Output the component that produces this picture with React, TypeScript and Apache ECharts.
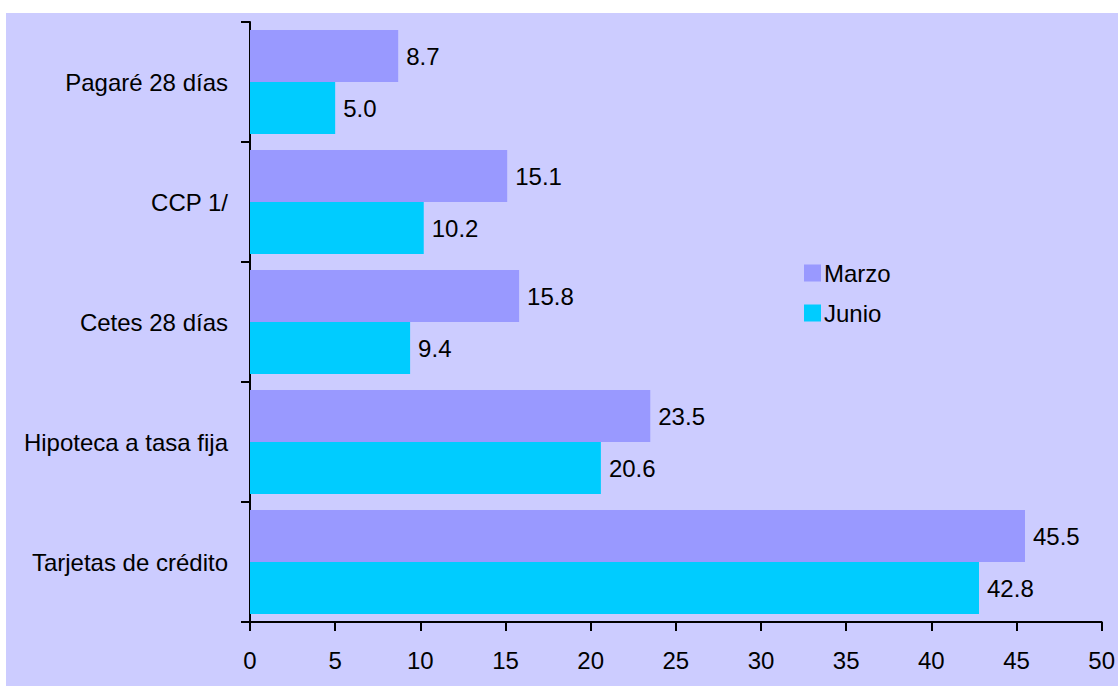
import React, { useEffect, useRef } from "react";
import * as echarts from "echarts";

// Categories listed top to bottom
const categories = [
  "Pagaré 28 días",
  "CCP 1/",
  "Cetes 28 días",
  "Hipoteca a tasa fija",
  "Tarjetas de crédito",
];
const marzo = [8.7, 15.1, 15.8, 23.5, 45.5];
const junio = [5.0, 10.2, 9.4, 20.6, 42.8];
const seriesNames = ["Marzo", "Junio"];
const xTicks = { min: 0, max: 50, interval: 5 };

const FONT = "'Liberation Sans', Arial, sans-serif";
const FS = 24;

export default function App() {
  const ref = useRef<HTMLDivElement>(null);

  useEffect(() => {
    if (!ref.current) return;
    const chart = echarts.init(ref.current, undefined, { renderer: "svg" });
    const label = {
      show: true,
      position: "right" as const,
      distance: 8,
      color: "#000",
      fontFamily: FONT,
      fontSize: FS,
      formatter: (p: any) => Number(p.value).toFixed(1),
    };
    chart.setOption({
      animation: false,
      backgroundColor: "#ffffff",
      textStyle: { fontFamily: FONT },
      graphic: [
        {
          type: "rect",
          z: -10,
          shape: { x: 6, y: 13, width: 1112, height: 673 },
          style: { fill: "#CCCCFF" },
          silent: true,
        },
      ],
      grid: { left: 250, right: 13, top: 22, bottom: 64, containLabel: false },
      legend: {
        orient: "vertical",
        left: 799,
        top: 256,
        data: seriesNames,
        itemWidth: 17,
        itemHeight: 17,
        itemGap: 16,
        icon: "rect",
        textStyle: { fontFamily: FONT, fontSize: FS, color: "#000", padding: [0, 0, 0, -2] },
      },
      xAxis: {
        type: "value",
        min: xTicks.min,
        max: xTicks.max,
        interval: xTicks.interval,
        splitLine: { show: false },
        axisLine: { show: true, lineStyle: { color: "#000", width: 2 } },
        axisTick: { show: true, length: 9, lineStyle: { color: "#000", width: 2 } },
        axisLabel: { color: "#000", fontFamily: FONT, fontSize: FS, margin: 26 },
      },
      yAxis: {
        type: "category",
        data: categories,
        inverse: true,
        axisLine: { show: true, lineStyle: { color: "#000", width: 2 } },
        axisTick: { show: true, length: 9, lineStyle: { color: "#000", width: 2 } },
        axisLabel: { color: "#000", fontFamily: FONT, fontSize: FS, margin: 22 },
      },
      series: [
        {
          name: seriesNames[0],
          type: "bar",
          data: marzo,
          barWidth: 52,
          barGap: "0%",
          itemStyle: { color: "#9999FF" },
          label,
        },
        {
          name: seriesNames[1],
          type: "bar",
          data: junio,
          barWidth: 52,
          barGap: "0%",
          itemStyle: { color: "#00CCFF" },
          label,
        },
      ],
    });
    return () => chart.dispose();
  }, []);

  return (
    <div
      ref={ref}
      style={{ position: "absolute", left: 0, top: 0, width: 1118, height: 686 }}
    />
  );
}
